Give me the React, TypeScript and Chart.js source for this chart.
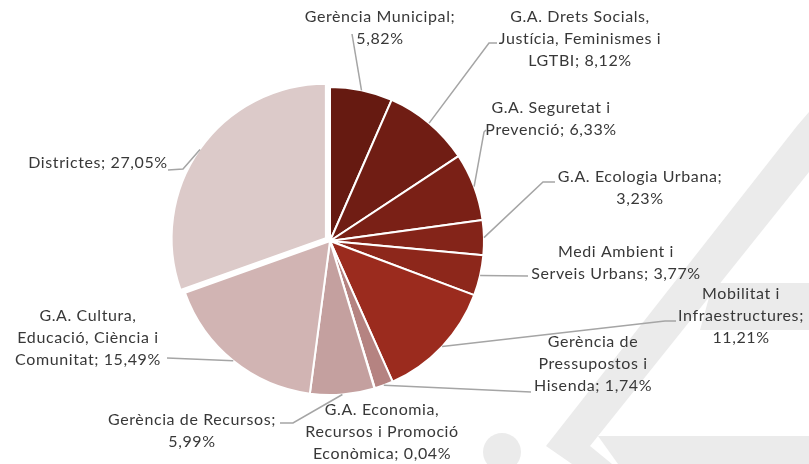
import { useEffect, useRef } from 'react';
import { Chart, registerables } from 'chart.js';

Chart.register(...registerables);

// ---------- data ----------
const categories = [
  'Gerència Municipal',
  'G.A. Drets Socials, Justícia, Feminismes i LGTBI',
  'G.A. Seguretat i Prevenció',
  'G.A. Ecologia Urbana',
  'Medi Ambient i Serveis Urbans',
  'Mobilitat i Infraestructures',
  'Gerència de Pressupostos i Hisenda',
  'G.A. Economia, Recursos i Promoció Econòmica',
  'Gerència de Recursos',
  'G.A. Cultura, Educació, Ciència i Comunitat',
  'Districtes',
];
const shares = [5.82, 8.12, 6.33, 3.23, 3.77, 11.21, 1.74, 0.04, 5.99, 15.49, 27.05];

// ---------- styles / layout ----------
const sliceColors = [
  '#661a11', '#701d14', '#7a2016', '#842419', '#8d271b', '#9b2b1e',
  '#b58381', '#bd9190', '#c4a09f', '#d1b4b3', '#dccac9',
];
const sliceOffsets = [0, 0, 0, 0, 0, 0, 0, 0, 0, 0, 20];
// word counts per line of each label
const wrapCounts = [[2, 1], [3, 3, 2], [3, 2], [3, 1], [3, 3], [2, 1, 1], [2, 2, 2], [2, 3, 2], [3, 1], [2, 3, 2], [2]];
// center x, first line y of each label
const labelAnchors: [number, number][] = [
  [380, 17], [580, 17], [551, 108], [640, 177], [616, 252], [741, 294],
  [593, 342], [382, 410], [192, 420], [88, 316], [98, 163],
];
// leader lines: intermediate points after the slice point (null: no leader)
const leaderPoints: ([number, number][] | null)[] = [
  [[352, 34]],
  [[489, 43], [497, 43]],
  [[484, 132], [486, 130]],
  [[543, 182], [555, 182]],
  [[528, 276]],
  [[665, 321], [676, 321]],
  [[531, 392]],
  null,
  [[293, 423], [280, 423]],
  [[167, 358]],
  [[183, 169], [168, 170]],
];
const LINE_H = 22;
const FONT = '16px Lato, "Open Sans", sans-serif';
const LETTER_SPACING = '0.6px';
const TEXT_COLOR = '#383838';
const LEADER_COLOR = '#a5a5a5';

function fmt(v: number) {
  return v.toFixed(2).replace('.', ',') + '%';
}

function labelLines(i: number): string[] {
  const words = `${categories[i]}; ${fmt(shares[i])}`.split(' ');
  const out: string[] = [];
  let k = 0;
  for (const n of wrapCounts[i]) {
    out.push(words.slice(k, k + n).join(' '));
    k += n;
  }
  return out;
}

const watermarkPlugin = {
  id: 'watermark',
  beforeDraw(chart: any) {
    const ctx = chart.ctx as CanvasRenderingContext2D;
    ctx.save();
    ctx.fillStyle = '#ffffff';
    ctx.fillRect(0, 0, chart.width, chart.height);
    ctx.fillStyle = '#ebebeb';
    const poly = (pts: number[][]) => {
      ctx.beginPath();
      ctx.moveTo(pts[0][0], pts[0][1]);
      for (let j = 1; j < pts.length; j++) ctx.lineTo(pts[j][0], pts[j][1]);
      ctx.closePath();
      ctx.fill();
    };
    poly([[797, 126], [809, 112], [809, 172], [590, 446], [612, 464], [572, 464], [546, 446]]);
    poly([[713, 283], [809, 283], [809, 330], [700, 330]]);
    poly([[598, 436], [809, 436], [809, 464], [618, 464]]);
    ctx.beginPath();
    ctx.arc(502, 452, 19, 0, Math.PI * 2);
    ctx.fill();
    ctx.restore();
  },
};

const labelPlugin = {
  id: 'outLabels',
  afterDraw(chart: any) {
    const ctx = chart.ctx as CanvasRenderingContext2D;
    const meta = chart.getDatasetMeta(0);
    ctx.save();
    meta.data.forEach((arc: any, i: number) => {
      const pts = leaderPoints[i];
      if (pts) {
        const mid = (arc.startAngle + arc.endAngle) / 2;
        const off = (arc.options.offset || 0) / 4;
        const r = arc.outerRadius;
        const sx = arc.x + Math.cos(mid) * (r + off);
        const sy = arc.y + Math.sin(mid) * (r + off);
        ctx.strokeStyle = LEADER_COLOR;
        ctx.lineWidth = 1.5;
        ctx.beginPath();
        ctx.moveTo(sx, sy);
        for (const p of pts) ctx.lineTo(p[0], p[1]);
        ctx.stroke();
      }
      ctx.font = FONT;
      (ctx as any).letterSpacing = LETTER_SPACING;
      ctx.fillStyle = TEXT_COLOR;
      ctx.textAlign = 'center';
      ctx.textBaseline = 'middle';
      const [cx, cy] = labelAnchors[i];
      labelLines(i).forEach((line, j) => ctx.fillText(line, cx, cy + j * LINE_H));
    });
    ctx.restore();
  },
};

export default function App() {
  const ref = useRef<HTMLCanvasElement | null>(null);
  useEffect(() => {
    document.body.style.margin = '0';
    const chart = new Chart(ref.current as HTMLCanvasElement, {
      type: 'pie',
      data: {
        labels: categories,
        datasets: [
          {
            data: shares,
            backgroundColor: sliceColors,
            borderColor: '#ffffff',
            borderWidth: 2,
            offset: sliceOffsets,
          },
        ],
      },
      options: {
        responsive: false,
        animation: false,
        radius: 154,
        layout: { padding: { left: 0, right: 149, top: 18, bottom: 0 } },
        plugins: { legend: { display: false }, tooltip: { enabled: false } },
      } as any,
      plugins: [watermarkPlugin, labelPlugin],
    });
    return () => chart.destroy();
  }, []);
  return (
    <div style={{ width: 809, height: 464 }}>
      <canvas ref={ref} width={809} height={464} />
    </div>
  );
}
